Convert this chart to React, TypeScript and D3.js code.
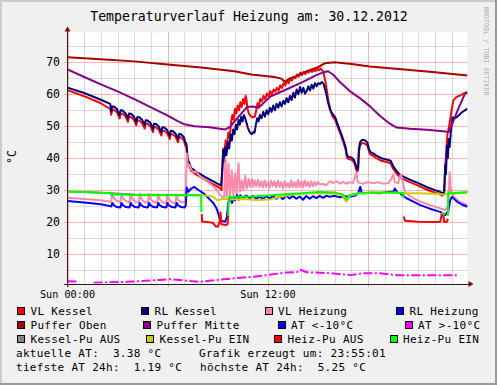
import React from 'react';
import * as d3 from 'd3';

type P = [number, number];
const G = NaN;

// ---- data (hour of day, °C) ----
const vlKessel: P[] = [
  [0,61.3],[1,59.4],[2,57.2],[2.56,55.4],
  [2.62,53.6],[2.68,55.2],[2.8,55.1],[2.97,54.3],[3.12,52.4],[3.18,54.0],[3.3,53.9],[3.47,53.1],
  [3.62,51.4],[3.68,53.0],[3.8,52.9],[3.97,52.1],[4.12,50.3],[4.18,51.9],[4.3,51.8],[4.47,51.0],
  [4.62,49.3],[4.68,50.9],[4.8,50.8],[4.97,50.0],[5.12,48.2],[5.18,49.8],[5.3,49.7],[5.47,48.9],
  [5.62,47.1],[5.68,48.7],[5.8,48.6],[5.97,47.8],[6.12,46.0],[6.18,47.6],[6.3,47.5],[6.47,46.7],
  [6.62,45.0],[6.68,46.6],[6.8,46.5],[6.97,45.6],[7.05,44.0],[7.12,43.5],[7.2,38.8],[7.3,37.6],[7.4,36.0],[7.8,34.6],[8.2,33.4],[8.7,31.9],
  [9.14,30.6],[9.22,30.0],[9.27,36.0],[9.33,43.0],[9.4,41.5],[9.47,45.5],[9.55,44.0],[9.63,48.0],[9.71,46.5],[9.79,51.0],[9.87,53.5],[9.95,52.0],
  [10.03,55.5],[10.11,54.0],[10.19,56.5],[10.27,55.0],[10.35,57.5],[10.43,56.0],[10.51,58.5],[10.59,57.0],[10.67,59.5],[10.72,58.0],[10.78,55.5],
  [10.86,54.0],[10.96,53.2],[11.1,52.8],[11.22,53.0],[11.3,55.0],[11.38,57.2],[11.46,56.5],[11.54,58.5],[11.64,57.8],[11.74,59.5],[11.84,58.5],
  [11.94,60.2],[12.04,59.5],[12.14,61.0],[12.24,60.0],[12.34,61.5],[12.44,60.8],[12.54,62.0],[12.64,61.2],[12.74,62.8],[12.84,62.0],[12.94,63.5],
  [13.04,62.8],[13.14,64.2],[13.24,63.5],[13.34,65.0],[13.44,64.3],[13.54,65.5],[13.64,65.0],[13.74,66.2],[13.84,65.5],[13.94,66.8],[14.04,66.0],
  [14.14,67.0],[14.24,66.3],[14.34,67.3],[14.44,66.8],[14.54,67.6],[14.64,67.0],[14.74,67.8],[14.84,67.2],[14.94,68.0],[15.04,67.5],[15.14,68.1],
  [15.24,67.6],[15.33,66.8],[15.42,64.5],[15.52,61.5],[15.62,58.0],[15.73,55.5],[15.85,53.2],[16.03,52.0],[16.18,49.8],[16.33,47.8],[16.5,45.2],
  [16.65,42.8],[16.73,40.3],[16.8,39.8],[17.0,39.5],[17.15,38.8],[17.25,37.2],[17.33,35.8],[17.4,36.2],[17.45,42.0],[17.52,44.0],[17.65,44.8],
  [17.8,44.6],[17.95,44.0],[18.05,42.2],[18.13,41.2],[18.3,40.7],[18.5,40.0],[18.8,39.2],[19.1,38.8],[19.35,38.4],[19.5,36.7],[19.7,35.2],
  [19.92,33.9],[20.5,32.5],[21.0,31.4],[21.5,30.2],[22.0,29.2],[22.3,28.7],[22.45,28.3],[22.55,29.0],[22.65,40.0],[22.75,47.5],[22.85,50.0],
  [23.0,55.0],[23.1,58.1],[23.3,59.2],[23.5,59.6],[23.7,60.2],[23.95,60.7],
];

const rlKessel: P[] = [
  [0,62.1],[1,60.4],[2,58.3],[2.56,57.0],
  [2.62,54.6],[2.68,56.2],[2.8,56.1],[2.97,55.3],[3.12,53.4],[3.18,55.0],[3.3,54.9],[3.47,54.1],
  [3.62,52.4],[3.68,54.0],[3.8,53.9],[3.97,53.1],[4.12,51.3],[4.18,52.9],[4.3,52.8],[4.47,52.0],
  [4.62,50.3],[4.68,51.9],[4.8,51.8],[4.97,51.0],[5.12,49.2],[5.18,50.8],[5.3,50.7],[5.47,49.9],
  [5.62,48.1],[5.68,49.7],[5.8,49.6],[5.97,48.8],[6.12,47.0],[6.18,48.6],[6.3,48.5],[6.47,47.7],
  [6.62,46.0],[6.68,47.6],[6.8,47.5],[6.97,46.6],[7.05,45.0],[7.12,44.5],[7.2,39.5],[7.3,38.5],[7.4,36.9],[7.8,35.5],[8.2,34.2],[8.7,32.8],
  [9.14,31.6],[9.2,31.6],[9.26,36.0],[9.32,42.5],[9.38,39.0],[9.45,43.5],[9.52,41.0],[9.6,45.0],[9.68,43.0],[9.76,47.5],[9.84,45.5],[9.92,49.0],
  [10.0,47.5],[10.08,50.5],[10.16,49.0],[10.24,52.0],[10.32,50.5],[10.4,53.0],[10.48,51.5],[10.56,53.5],[10.64,52.5],[10.72,51.0],[10.8,49.5],
  [10.88,48.5],[10.96,47.8],[11.04,47.5],[11.12,48.2],[11.2,48.0],[11.28,50.5],[11.36,52.5],[11.44,51.5],[11.52,53.5],[11.62,52.5],[11.72,54.5],
  [11.82,53.0],[11.92,55.0],[12.02,53.8],[12.12,55.8],[12.22,54.5],[12.32,56.5],[12.42,55.0],[12.52,57.0],[12.62,55.8],[12.72,57.5],[12.82,56.2],
  [12.92,58.0],[13.02,57.0],[13.12,58.8],[13.22,57.5],[13.32,59.5],[13.42,58.2],[13.52,60.5],[13.62,59.0],[13.72,61.5],[13.82,60.0],[13.92,62.3],
  [14.02,60.5],[14.12,62.0],[14.22,60.2],[14.32,61.0],[14.42,62.5],[14.52,61.2],[14.62,63.0],[14.72,61.8],[14.82,63.5],[14.92,62.5],[15.02,63.5],
  [15.12,63.2],[15.22,63.8],[15.32,63.4],[15.4,62.0],[15.5,60.0],[15.6,57.5],[15.73,55.0],[15.85,54.0],[16.03,52.8],[16.18,50.5],[16.33,48.5],
  [16.5,46.0],[16.65,43.5],[16.73,41.0],[16.8,40.5],[17.0,40.2],[17.15,39.5],[17.25,38.0],[17.33,36.6],[17.4,37.0],[17.45,43.0],[17.52,45.0],
  [17.65,45.8],[17.8,45.6],[17.95,45.0],[18.05,43.0],[18.13,42.0],[18.3,41.5],[18.5,40.8],[18.8,40.0],[19.1,39.6],[19.35,39.2],[19.5,37.5],
  [19.7,36.0],[19.92,34.7],[20.5,33.3],[21.0,32.2],[21.5,31.0],[22.0,30.0],[22.3,29.5],[22.45,29.0],[22.55,29.4],[22.62,38.0],[22.66,35.0],
  [22.72,44.0],[22.77,40.0],[22.83,46.0],[22.88,43.5],[22.95,48.0],[23.05,52.8],[23.2,52.5],[23.35,53.0],[23.6,54.3],[23.95,55.5],
];

const vlHeizung: P[] = [
  [0,27.6],[1,27.2],[2,26.8],[2.56,26.4],[2.62,26.4],[2.68,29.0],[2.78,27.5],[2.95,26.6],[3.17,26.3],[3.23,28.9],[3.33,27.4],[3.5,26.5],
  [3.72,26.2],[3.78,28.9],[3.88,27.3],[4.05,26.4],[4.27,26.1],[4.33,28.8],[4.43,27.2],[4.6,26.3],[4.82,26.0],[4.88,28.8],[4.98,27.2],[5.15,26.3],
  [5.37,26.0],[5.43,28.7],[5.53,27.1],[5.7,26.2],[5.92,25.9],[5.98,28.7],[6.08,27.1],[6.25,26.2],[6.47,25.9],[6.53,28.6],[6.63,27.0],[6.8,26.3],
  [7.02,26.2],[7.08,29.0],[7.14,41.5],[7.2,37.5],[7.3,38.0],[7.4,36.5],[7.55,35.5],[7.7,36.0],[7.9,34.5],[8.2,33.3],[8.5,32.2],[8.8,30.8],
  [9.0,29.5],[9.14,28.4],[9.25,28.0],[9.38,27.2],[9.46,40.0],[9.54,28.0],[9.64,38.3],[9.73,28.0],[9.84,36.2],[9.93,28.5],[10.04,35.2],
  [10.13,29.0],[10.24,38.4],[10.33,29.5],[10.44,33.0],[10.53,30.0],[10.64,34.5],[10.73,30.5],[10.84,33.5],[10.93,31.0],[11.04,33.5],
  [11.12,31.0],[11.2,33.0],[11.3,31.2],[11.4,33.2],[11.5,31.0],[11.6,32.8],[11.7,30.8],
  [11.8,33.0],[11.9,31.0],[12.0,32.5],[12.1,30.8],[12.2,33.0],[12.3,31.2],[12.4,32.8],[12.5,30.8],[12.6,33.0],[12.7,31.0],[12.8,32.5],[12.9,30.5],
  [13.0,32.8],[13.1,31.0],[13.2,32.2],[13.3,30.8],[13.4,33.0],[13.5,31.0],[13.6,32.5],[13.7,30.8],[13.8,33.2],[13.9,31.0],[14.0,32.8],[14.1,30.8],
  [14.2,33.0],[14.3,31.2],[14.4,32.5],[14.5,31.0],[14.6,32.8],[14.7,31.2],[14.8,32.5],[14.9,31.5],[15.0,32.6],[15.1,31.8],[15.3,32.0],[15.5,31.5],
  [15.7,32.8],[15.9,32.2],[16.1,32.8],[16.3,32.0],[16.5,32.6],[16.7,32.0],[16.9,32.5],[17.1,32.2],[17.3,35.5],[17.38,32.5],[17.5,32.2],[17.7,32.0],
  [18.0,32.5],[18.3,32.2],[18.6,32.5],[18.9,32.0],[19.2,32.2],[19.4,33.5],[19.5,35.0],[19.6,32.5],[19.8,32.2],[19.95,35.0],[20.05,33.0],
  [20.22,29.2],[20.6,27.8],[21.12,26.4],[21.7,25.3],[22.32,24.3],[22.62,23.8],[22.8,25.0],[22.88,35.6],[22.95,30.0],[23.12,27.9],[23.5,26.3],[23.95,25.3],
];

const rlHeizung: P[] = [
  [0,26.6],[1,26.1],[2,25.6],[2.56,25.0],[2.62,24.9],[2.68,26.0],[2.8,25.2],[2.95,24.7],[3.17,24.6],[3.23,26.0],[3.33,25.2],[3.5,24.7],
  [3.72,24.6],[3.78,26.0],[3.88,25.2],[4.05,24.7],[4.27,24.6],[4.33,26.0],[4.43,25.2],[4.6,24.7],[4.82,24.6],[4.88,26.0],[4.98,25.2],[5.15,24.7],
  [5.37,24.6],[5.43,26.0],[5.53,25.2],[5.7,24.7],[5.92,24.6],[5.98,26.0],[6.08,25.2],[6.25,24.7],[6.47,24.6],[6.53,26.0],[6.63,25.2],[6.8,24.7],
  [7.02,24.6],[7.08,25.2],[7.14,30.8],[7.25,29.5],[7.4,30.5],[7.6,31.0],[7.8,30.2],[8.0,29.5],[8.14,29.0],[8.5,27.2],[8.74,25.9],[8.9,24.5],
  [9.0,23.2],[9.14,20.6],[9.3,20.3],[9.44,20.1],[9.55,21.7],[9.62,25.9],[9.74,27.9],[9.85,26.0],[9.95,27.5],[10.04,26.8],[10.15,28.5],[10.25,27.0],
  [10.34,28.4],[10.5,27.5],[10.7,28.3],[10.9,27.4],[11.1,28.2],[11.3,27.3],[11.5,28.0],[11.7,27.2],[11.9,28.1],[12.1,27.4],[12.3,28.2],[12.5,27.3],
  [12.7,28.0],[12.9,27.2],[13.1,28.3],[13.3,27.4],[13.5,28.2],[13.7,27.3],[13.9,28.0],[14.1,27.0],[14.3,28.2],[14.5,27.3],[14.7,28.1],[14.9,27.5],
  [15.1,28.2],[15.3,27.6],[15.5,28.3],[15.7,27.9],[16.0,28.2],[16.3,27.8],[16.6,28.1],[16.9,27.9],[17.2,28.2],[17.4,29.0],[17.53,31.0],[17.62,29.0],
  [17.72,29.0],[18.2,29.2],[18.7,29.0],[19.32,29.5],[19.5,29.4],[19.6,30.5],[19.75,29.2],[19.92,29.0],[20.32,27.4],[21.12,25.3],[21.7,24.2],
  [22.32,23.2],[22.62,22.2],[22.8,23.5],[22.92,26.9],[23.02,27.9],[23.32,26.4],[23.6,25.5],[23.95,24.8],
];

const pufferOben: P[] = [
  [0,71.6],[2,71.0],[4,70.3],[6,69.3],[8,68.4],[10,67.2],[11,66.2],[12.4,65.4],[12.8,64.9],[13.0,63.9],[13.3,64.9],[13.8,65.9],
  [14.4,67.4],[15.0,68.5],[15.4,69.7],[16.0,70.0],[17.0,69.5],[18.1,68.7],[20.0,67.8],[22.0,66.9],[23.95,65.9],
];

const pufferMitte: P[] = [
  [0,67.8],[1,65.4],[2,63.1],[3,60.9],[4,58.5],[5,55.9],[6,53.3],[6.6,51.6],[7.0,50.6],[7.6,50.0],[8.5,49.7],[9.44,49.0],[9.74,49.8],
  [10.14,52.4],[10.74,56.0],[11.1,56.2],[11.44,55.8],[12.14,59.3],[13.1,61.5],[14.1,63.9],[14.9,66.0],[15.4,67.0],[15.6,67.2],[15.9,66.2],
  [16.3,63.9],[16.9,61.0],[17.5,58.8],[18.1,56.3],[18.7,53.3],[19.3,50.8],[19.7,49.6],[20.5,49.2],[21.5,48.9],[22.5,48.4],[22.82,48.2],
  [23.0,50.3],[23.4,55.5],[23.8,60.2],[23.95,60.6],
];

const atUnderMinus10: P[] = [];

const atOverMinus10: P[] = [
  [0,1.5],[0.55,1.4],[0.6,G],[1.56,1.0],[3.56,1.3],[5.55,1.9],[6.15,2.1],[7.94,1.3],[9.54,2.2],[11.14,2.9],[11.94,3.4],[12.64,3.9],
  [13.14,4.2],[13.75,4.4],[13.93,5.1],[14.33,4.3],[15.73,4.0],[16.93,3.4],[17.73,4.0],[18.72,4.0],[19.72,3.4],[21.12,3.4],[23.32,3.4],
];

const kesselPuAus: P[] = [
  [0,29.5],[1,29.4],[2,29.2],[2.65,29.0],[4,28.6],[6,28.5],[8.0,28.4],
];

const kesselPuEin: P[] = [
  [8.0,28.4],[8.5,28.2],[8.74,27.9],[8.94,26.9],[9.1,27.0],[9.34,27.4],[9.74,27.1],[10.5,27.2],[11.34,26.9],[12.14,27.1],[12.8,28.0],
  [13.5,28.6],[14.5,29.0],[15.5,29.0],[16.4,28.6],[16.7,26.4],[16.9,28.2],[17.5,29.0],[18.5,29.2],[19.5,29.2],[20.2,29.0],[21.0,29.0],
  [22.0,28.9],[22.5,28.6],[22.8,28.8],[23.95,29.2],
];

const heizPuAus: P[] = [
  [8.04,22.5],[8.06,20.2],[8.7,19.8],[8.86,18.7],[9.0,18.6],[9.1,20.0],[9.16,23.0],[9.22,19.3],[9.5,19.1],[9.58,19.3],[9.62,22.0],[9.63,G],
  [20.12,21.7],[20.22,20.4],[21.0,20.1],[22.0,20.0],[22.32,20.1],[22.42,22.7],[22.5,22.5],[22.55,20.1],[22.7,20.0],[22.78,21.0],
];

const heizPuEin: P[] = [
  [0,29.5],[1,29.4],[2,29.2],[2.6,29.0],[2.66,28.3],[2.72,28.7],[4,28.5],[6,28.4],[7.9,28.4],[8.0,28.3],[8.02,23.2],[8.03,G],
  [9.62,22.0],[9.65,27.8],[10,27.9],[11,28.0],[12,28.3],[13,28.7],[14,29.0],[15,29.4],[16,29.3],[16.5,28.6],[16.7,27.2],[16.9,28.5],
  [17.5,29.1],[18.5,29.3],[19.5,29.2],[20.1,29.1],[20.12,27.6],[20.13,G],
  [22.4,23.0],[22.5,22.6],[22.6,22.2],[22.61,G],
  [22.78,22.0],[22.8,29.4],[23.0,29.0],[23.3,29.2],[23.95,29.4],
];

const seriesNames = ['VL Kessel','RL Kessel','VL Heizung','RL Heizung','Puffer Oben','Puffer Mitte','AT <-10°C','AT >-10°C','Kessel-Pu AUS','Kessel-Pu EIN','Heiz-Pu AUS','Heiz-Pu EIN'];
const seriesColors = ['#FF0000','#000080','#FF88AA','#0000FF','#AA0000','#880088','#0000FF','#FF00FF','#888888','#CCCC00','#FF0000','#00FF00'];
const seriesData = [vlKessel, rlKessel, vlHeizung, rlHeizung, pufferOben, pufferMitte, atUnderMinus10, atOverMinus10, kesselPuAus, kesselPuEin, heizPuAus, heizPuEin];
const drawOrder = [0,1,2,3,4,5,6,7,8,9,10,11];

const yMajorTicks = [10,20,30,40,50,60,70];
const yMinorTicks = [5,15,25,35,45,55,65,75];
const xMinorHours = d3.range(0, 24, 1);
const xMajorHours = [0,6,12,18];
const xLabels: [number, string][] = [[0,'Sun 00:00'],[12,'Sun 12:00']];

const title = 'Temperaturverlauf Heizung am: 30.12.2012';
const infoLines: [string, string][] = [
  ['aktuelle AT:  3.38 °C', 'Grafik erzeugt um: 23:55:01'],
  ['tiefste AT 24h:  1.19 °C', 'höchste AT 24h:  5.25 °C'],
];

// legend layout (swatch x, row)
const legendPos: [number, number][] = [
  [17,0],[141,0],[264.5,0],[396,0],
  [17,1],[143,1],[277.5,1],[404.5,1],
  [17,2],[146,2],[274,2],[389.5,2],
];

const FONT = '"DejaVu Sans Mono", "Liberation Mono", monospace';

export default function App() {
  const W = 497, H = 385;
  const left = 67, right = 467.5, top = 32.3, bottom = 283.5;
  const x = d3.scaleLinear().domain([0, 23.95]).range([67.5, 467.5]);
  const y = d3.scaleLinear().domain([0.78, 79.4]).range([bottom, top]);
  const line = d3.line<P>().defined(d => !Number.isNaN(d[1])).x(d => x(d[0])).y(d => y(d[1]));
  const px = (v: number) => Math.round(v) + 0.5;

  const rowBase = (r: number) => 315 + r * 14;

  return (
    <svg width={W} height={H} style={{ position: 'absolute', left: 0, top: 0, display: 'block' }} xmlns="http://www.w3.org/2000/svg">
      <defs>
        <clipPath id="cv"><rect x={left} y={top} width={right - left} height={bottom - top} /></clipPath>
      </defs>
      <rect x={0} y={0} width={W} height={H} fill="#F0F0F0" />
      {/* frame */}
      <rect x={0} y={0} width={W} height={2} fill="#CBCBCB" />
      <rect x={0} y={0} width={2} height={H} fill="#CBCBCB" />
      <rect x={0} y={H - 2} width={W} height={2} fill="#999999" />
      <rect x={W - 2} y={0} width={2} height={H} fill="#999999" />

      <text x={249} y={21} textAnchor="middle" fontFamily={FONT} fontSize={13.2} fill="#000">{title}</text>
      <text transform="translate(484,7) rotate(90)" fontFamily={FONT} fontSize={6.7} fill="#ABABAB" style={{ whiteSpace: 'pre' }}>RRDTOOL / TOBI OETIKER</text>

      <rect x={left} y={top} width={right - left} height={bottom - top} fill="#FFFFFF" />

      {/* grid */}
      <g shapeRendering="crispEdges">
        {yMinorTicks.map(v => (
          <line key={'ym' + v} x1={left} x2={right} y1={px(y(v))} y2={px(y(v))} stroke="rgba(128,128,128,0.28)" />
        ))}
        {xMinorHours.filter(h => !xMajorHours.includes(h)).map(h => (
          <line key={'xm' + h} x1={px(x(h))} x2={px(x(h))} y1={top} y2={bottom} stroke="rgba(128,128,128,0.28)" />
        ))}
        {yMajorTicks.map(v => (
          <line key={'yM' + v} x1={left - 3} x2={right} y1={px(y(v))} y2={px(y(v))} stroke="rgba(255,0,0,0.3)" />
        ))}
        {xMajorHours.map(h => (
          <line key={'xM' + h} x1={px(x(h))} x2={px(x(h))} y1={top} y2={bottom + 3} stroke="rgba(255,0,0,0.3)" />
        ))}
      </g>

      {/* series */}
      <g clipPath="url(#cv)" fill="none" strokeWidth={2} strokeLinejoin="round" strokeLinecap="butt">
        {drawOrder.map(i => seriesData[i].length > 0 && (
          <path key={'s' + i} d={line(seriesData[i]) || ''} stroke={seriesColors[i]}
            strokeDasharray={i === 7 ? '9 2.5 2 2.5' : undefined} />
        ))}
      </g>

      {/* axes */}
      <g shapeRendering="crispEdges">
        <line x1={left - 3} x2={470} y1={px(bottom)} y2={px(bottom)} stroke="#2a1a1a" />
        <line x1={px(left)} x2={px(left)} y1={bottom + 3} y2={29} stroke="#3a1a1a" />
      </g>
      <path d={`M${left + 0.5},26.5 L${left + 3.5},31.5 L${left - 2.5},31.5 Z`} fill="#7F0000" />
      <path d={`M473.5,${bottom + 0.5} L468.5,${bottom - 2.5} L468.5,${bottom + 3.5} Z`} fill="#7F0000" />

      {/* y labels */}
      {yMajorTicks.map(v => (
        <text key={'yl' + v} x={60} y={y(v) + 4} textAnchor="end" fontFamily={FONT} fontSize={11.5} fill="#000">{v}</text>
      ))}
      <text transform="translate(16,157) rotate(-90)" textAnchor="middle" fontFamily={FONT} fontSize={11.5} fill="#000">°C</text>

      {/* x labels */}
      {xLabels.map(([h, t]) => (
        <text key={'xl' + h} x={x(h)} y={298} textAnchor="middle" fontFamily={FONT} fontSize={10.2} fill="#000" style={{ whiteSpace: 'pre' }}>{t}</text>
      ))}

      {/* legend */}
      {seriesNames.map((n, i) => {
        const [sx, r] = legendPos[i];
        const b = rowBase(r);
        return (
          <g key={'lg' + i}>
            <rect x={sx + 0.5} y={b - 7.5} width={7} height={7} fill={seriesColors[i]} stroke="#000" strokeWidth={1} shapeRendering="crispEdges" />
            <text x={sx + 13.5} y={b} fontFamily={FONT} fontSize={11} letterSpacing={0.3} fill="#000" style={{ whiteSpace: 'pre' }}>{n}</text>
          </g>
        );
      })}
      {infoLines.map(([a, b2], r) => (
        <g key={'info' + r}>
          <text x={16} y={rowBase(3 + r)} fontFamily={FONT} fontSize={11} letterSpacing={0.3} fill="#000" style={{ whiteSpace: 'pre' }}>{a}</text>
          <text x={r === 0 ? 199 : 200} y={rowBase(3 + r)} fontFamily={FONT} fontSize={11} letterSpacing={0.3} fill="#000" style={{ whiteSpace: 'pre' }}>{b2}</text>
        </g>
      ))}
    </svg>
  );
}
